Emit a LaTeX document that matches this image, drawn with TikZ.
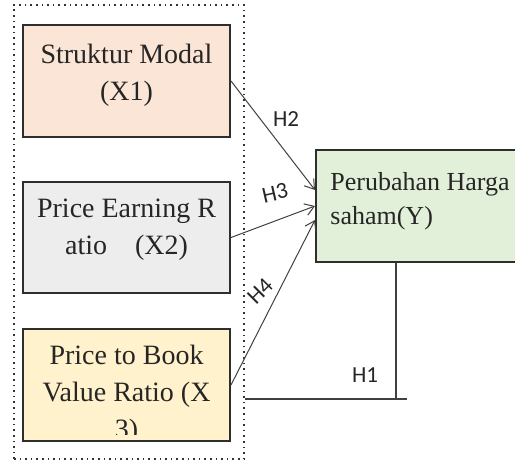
\documentclass[tikz,border=0pt]{standalone}
\usepackage{fontspec}
\setmainfont{Liberation Serif}
\newfontfamily\hfont{Carlito}
\usepackage {tikz}
\usetikzlibrary {positioning}
\usetikzlibrary{calc}
\usetikzlibrary{arrows.meta}
\definecolor{modal}{HTML}{FBE5D6}
\definecolor{earning}{HTML}{EDEDED}
\definecolor{book}{HTML}{FFF2CC}
\definecolor{harga}{HTML}{E2F0D9}
\definecolor{edge}{HTML}{2E2E2E}
\tikzset{
	varbox/.style = {rectangle, draw=edge, line width=1pt, minimum width=103.5pt, minimum height=56pt, inner sep=0pt},
    boxtext/.style = {anchor=north, inner sep=0pt, align=center, font=\fontsize{14}{18.5}\selectfont, text=black!85},
    hyp/.style = {font=\hfont\fontsize{11.5}{13}\selectfont, text=black!85, inner sep=0pt}}

\begin{document}
\begin{tikzpicture}[x=0.5pt, y=-0.5pt,
    link/.style ={-{Straight Barb[length=4.5pt,width=6pt]}, line width=0.5pt, draw=black!75},
    plain/.style ={line width=0.6pt, draw=black!75}
    ]
    \clip (0,0) rectangle (515,461);
    \node[draw=black!80, dotted, line width=0.8pt, minimum width=115pt, minimum height=227pt] (grp) at (129,232) {};
    \node[varbox, fill=modal] (x1) at (126.5,81) {};
    \node[varbox, fill=earning, minimum height=55.5pt] (x2) at (126.5,237.5) {};
    \node[varbox, fill=book] (x3) at (126.5,385) {};
    \node[varbox, fill=harga, minimum width=104.5pt] (y) at (420.5,206) {};
    % texts in the boxes
    \node[boxtext] (t1) at ([yshift=-10pt]x1.north) {Struktur Modal\\(X1)};
    \node[boxtext] (t2) at ([yshift=-9pt]x2.north) {Price Earning R\\atio\hspace{14pt}(X2)};
    \begin{scope}
    \clip ([xshift=1pt,yshift=4pt]x3.south west) rectangle (x3.north east);
    \node[boxtext] (t3) at ([yshift=-8.5pt]x3.north) {Price to Book\\Value Ratio (X\\3)};
    \end{scope}
    \node[boxtext, anchor=north west, align=left, font=\fontsize{13}{17}\selectfont] (ty) at (330,172) {Perubahan Harga\\saham(Y)};
    % hypotheses
    \draw[link] (x1.east) -- ([yshift=8pt]y.west);
    \draw[link] (x2.east) -- (y.west);
    \draw[link] (x3.east) -- ([yshift=-7pt]y.west);
    \coordinate (j) at (396,399);
    \coordinate (l) at (grp.east |- j);
    \coordinate (r) at (407,399);
    \draw[plain] (y.south -| j) -- (j);
    \draw[plain] (l) -- (r);
    \node[hyp] (h2) at (286,119) {H2};
    \node[hyp, rotate=13] (h3) at (275,193) {H3};
    \node[hyp, rotate=45] (h4) at (260,291) {H4};
    \node[hyp] (h1) at (365,375) {H1};
    \end{tikzpicture}
\end{document}
